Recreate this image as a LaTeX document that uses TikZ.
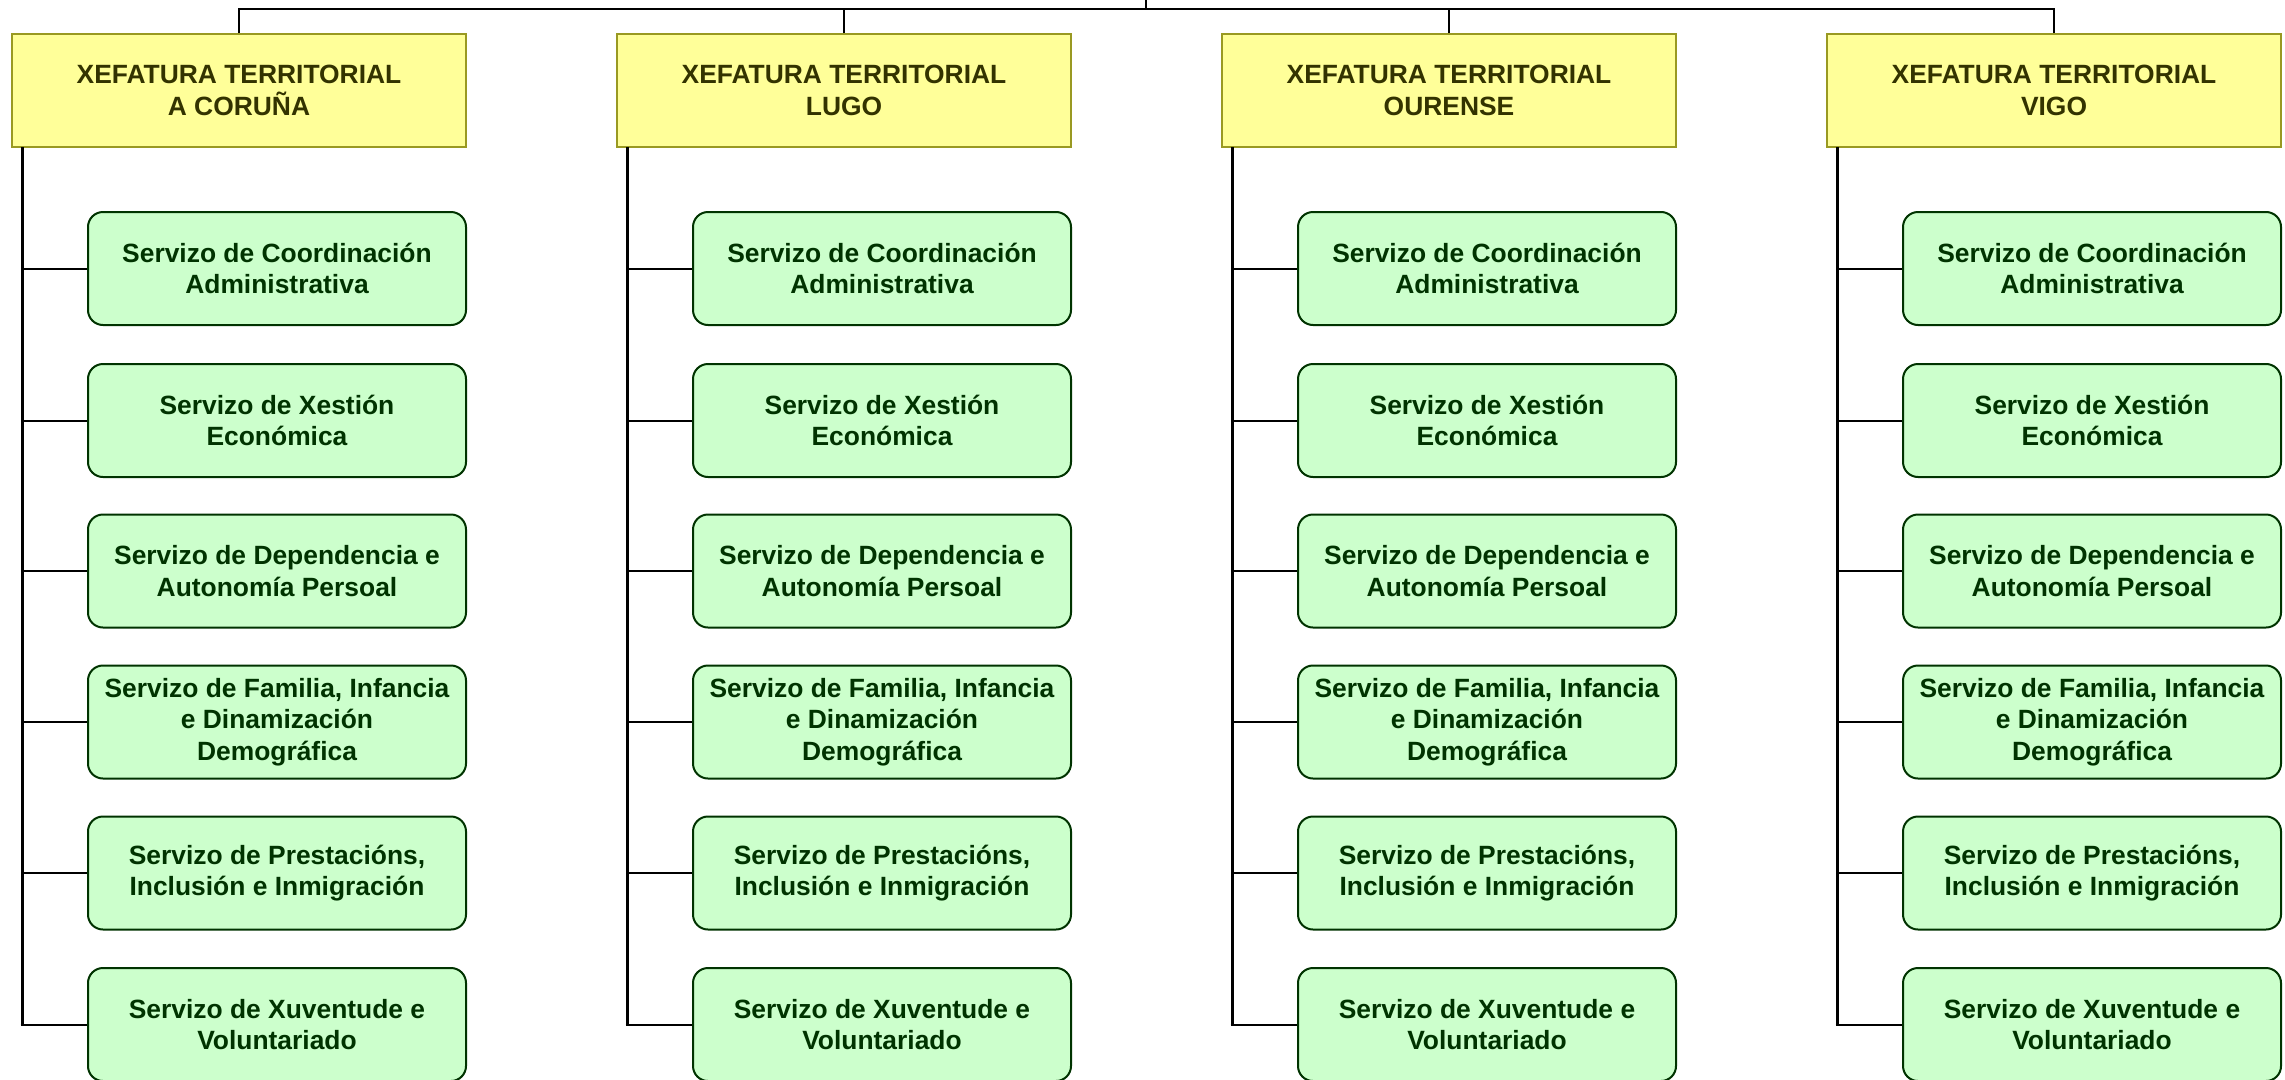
\documentclass[tikz,border=0pt]{standalone}
\usepackage{fontspec}
\setmainfont{Liberation Sans}
\definecolor{yfill}{HTML}{FFFF99}
\definecolor{ydraw}{HTML}{999922}
\definecolor{ytext}{HTML}{333300}
\definecolor{gfill}{HTML}{CCFFCC}
\definecolor{gdraw}{HTML}{003300}
\definecolor{gtext}{HTML}{003300}
\tikzset{
  jefbox/.style={draw=ydraw, fill=yfill, line width=2pt, minimum width=454pt, minimum height=113pt,
    inner sep=0pt, align=center, text=ytext, font=\fontsize{26.4}{31.7}\selectfont\bfseries},
  servbox/.style={draw=gdraw, fill=gfill, line width=2pt, rounded corners=15pt, minimum width=378pt,
    minimum height=113pt, inner sep=0pt, align=center, text=gtext, font=\fontsize{26.4}{31.7}\selectfont\bfseries},
  conn/.style={draw=black, line width=2pt},
  spine/.style={draw=black, line width=3pt}
}
\begin{document}
\begin{tikzpicture}[x=1pt,y=-1pt]
\useasboundingbox (0,0) rectangle (2285,1079);
% headers
\foreach \i/\name in {1/A CORUÑA,2/LUGO,3/OURENSE,4/VIGO}{
  \pgfmathsetmacro{\cx}{239+(\i-1)*605}
  \node[jefbox] (Y\i) at (\cx,90.5) {XEFATURA TERRITORIAL\\\name};
  \pgfmathsetmacro{\gx}{277+(\i-1)*605}
  \pgfmathsetmacro{\sx}{22+(\i-1)*605}
  \node[servbox] (G\i a) at (\gx,268.5) {Servizo de Coordinación\\Administrativa};
  \node[servbox] (G\i b) at (\gx,420.5) {Servizo de Xestión\\Económica};
  \node[servbox] (G\i c) at (\gx,571) {Servizo de Dependencia e\\Autonomía Persoal};
  \node[servbox] (G\i d) at (\gx,722) {Servizo de Familia, Infancia\\e Dinamización\\Demográfica};
  \node[servbox] (G\i e) at (\gx,873) {Servizo de Prestacións,\\Inclusión e Inmigración};
  \node[servbox] (G\i f) at (\gx,1024.5) {Servizo de Xuventude e\\Voluntariado};
  \coordinate (S\i) at (\sx,147);
  \foreach \r in {a,b,c,d,e}{
    \draw[conn] (S\i |- G\i\r.west) -- (G\i\r.west);
  }
  \draw[spine] (S\i) -- (S\i |- G\i f.west);
  \draw[conn] ([xshift=-1.5pt]S\i |- G\i f.west) -- (G\i f.west);
}
\coordinate (top) at (1146,0);
\coordinate (bus) at (1146,9);
\draw[conn] (top) -- (bus);
\draw[conn] (Y1.north) |- (bus) -| (Y4.north);
\draw[conn] (Y2.north) -- (Y2.north |- bus);
\draw[conn] (Y3.north) -- (Y3.north |- bus);
\end{tikzpicture}
\end{document}
